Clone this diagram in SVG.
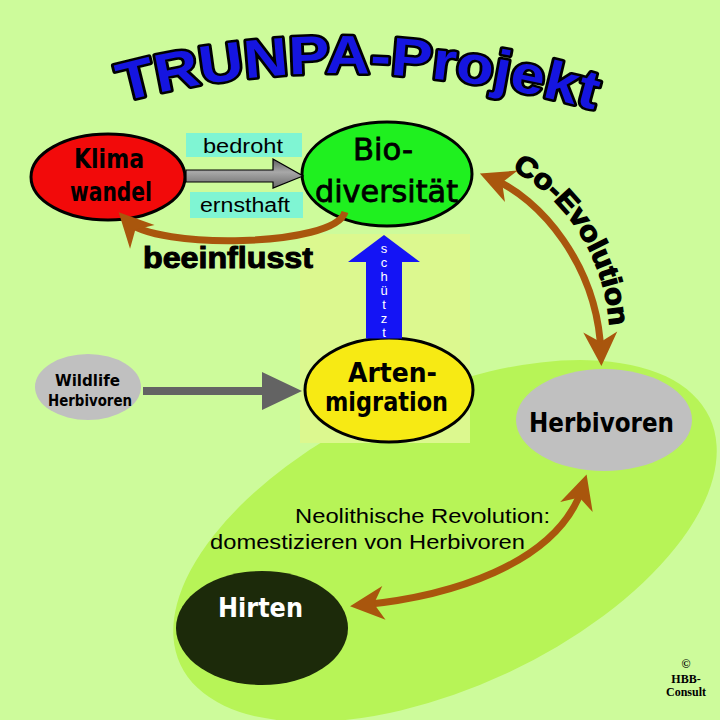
<svg xmlns="http://www.w3.org/2000/svg" width="720" height="720" viewBox="0 0 720 720">
<style>
.comic{font-family:"Comic Sans MS","DejaVu Sans",sans-serif;font-weight:bold;text-anchor:middle}
.reg{font-weight:normal;stroke:#000;stroke-width:0.8}
.arial{font-family:"Liberation Sans",Arial,sans-serif}
.node{stroke:#000;stroke-width:3}
.brown{fill:none;stroke:#a9560d;stroke-width:7;marker-start:url(#bh);marker-end:url(#bh)}
.lbl{fill:#7ff5d3}
</style>
<defs>
<marker id="bh" viewBox="-36 -19 38 38" refX="-12" refY="0" markerWidth="38" markerHeight="38" markerUnits="userSpaceOnUse" orient="auto-start-reverse">
<path d="M0,0 L-34,-17 L-24,0 L-34,17 Z" fill="#a9560d"/>
</marker>
<linearGradient id="gg" x1="0" y1="0" x2="0" y2="1">
<stop offset="0" stop-color="#5e5e5e"/>
<stop offset="0.45" stop-color="#a8a8a8"/>
<stop offset="1" stop-color="#6a6a6a"/>
</linearGradient>
<path id="titlePath" d="M 122,102 Q 350,40 602,112"/>
<path id="coevoPath" d="M 512,170 C 560,195 605,250 610,330"/>
</defs>

<rect x="0" y="0" width="720" height="720" fill="#cdfb9b"/>
<ellipse cx="445" cy="541" rx="292" ry="146" transform="rotate(-25 445 541)" fill="#b7f457"/>
<rect x="300" y="234" width="170" height="209" fill="#dcf88f"/>

<text class="arial" font-size="54" font-weight="bold" fill="#1515e0" stroke="#000" stroke-width="5" stroke-linejoin="round" paint-order="stroke"><textPath href="#titlePath" textLength="478" lengthAdjust="spacingAndGlyphs">TRUNPA-Projekt</textPath></text>

<g id="klima">
<ellipse class="node" cx="108" cy="177" rx="77" ry="43" fill="#f20a0a"/>
<text class="comic" x="109" y="168" font-size="26" textLength="70" lengthAdjust="spacingAndGlyphs">Klima</text>
<text class="comic" x="111" y="201" font-size="26" textLength="82" lengthAdjust="spacingAndGlyphs">wandel</text>
</g>
<g id="bio">
<ellipse class="node" cx="387" cy="174" rx="85" ry="52" fill="#1ff01f"/>
<text class="comic reg" x="383" y="160" font-size="30" textLength="60" lengthAdjust="spacingAndGlyphs">Bio-</text>
<text class="comic reg" x="386.5" y="202" font-size="30" textLength="143" lengthAdjust="spacingAndGlyphs">diversität</text>
</g>
<g id="arten">
<ellipse class="node" cx="389" cy="390" rx="84" ry="52" fill="#f7ea14"/>
<text class="comic" x="392.5" y="382" font-size="27" textLength="89" lengthAdjust="spacingAndGlyphs">Arten-</text>
<text class="comic" x="386.5" y="411" font-size="27" textLength="123" lengthAdjust="spacingAndGlyphs">migration</text>
</g>
<g id="herbivoren">
<ellipse cx="604" cy="420" rx="88" ry="51" fill="#c0c0c0"/>
<text class="comic" x="601.5" y="432" font-size="26" textLength="145" lengthAdjust="spacingAndGlyphs">Herbivoren</text>
</g>
<g id="wildlife">
<ellipse cx="88" cy="387" rx="53" ry="33" fill="#c0c0c0"/>
<text class="comic" x="87.5" y="386" font-size="15" textLength="65" lengthAdjust="spacingAndGlyphs">Wildlife</text>
<text class="comic" x="90" y="406" font-size="15" textLength="84" lengthAdjust="spacingAndGlyphs">Herbivoren</text>
</g>
<g id="hirten">
<ellipse cx="262" cy="628" rx="86" ry="57" fill="#1c2a0a"/>
<text class="comic" x="260.5" y="617" font-size="26" fill="#fff" textLength="85" lengthAdjust="spacingAndGlyphs">Hirten</text>
</g>

<g id="connectors">
<rect class="lbl" x="186" y="133" width="116" height="24"/>
<rect class="lbl" x="190" y="192" width="113" height="26"/>
<path d="M186,170 H273 V159 L303,176 L273,188 V182 H186 Z" fill="url(#gg)" stroke="#000" stroke-width="1.2"/>
<text class="arial" x="243" y="153" font-size="20" text-anchor="middle" textLength="80" lengthAdjust="spacingAndGlyphs">bedroht</text>
<text class="arial" x="245" y="212" font-size="20" text-anchor="middle" textLength="90" lengthAdjust="spacingAndGlyphs">ernsthaft</text>

<path class="brown" d="M345,212 C335,247 155,250 127,221" style="marker-start:none"/>
<text class="arial" x="143" y="268" font-size="29" font-weight="bold" stroke="#000" stroke-width="1" textLength="170" lengthAdjust="spacingAndGlyphs">beeinflusst</text>

<path class="brown" d="M491,178 C540,198 598,265 601,354"/>
<text class="arial" font-size="28" font-weight="bold" stroke="#000" stroke-width="1.4"><textPath href="#coevoPath" textLength="192" lengthAdjust="spacingAndGlyphs">Co-Evolution</textPath></text>

<path d="M366,338.5 V262 H348 L384,235 L420,262 H402 V338.5 Z" fill="#1414f5"/>
<text class="arial" font-size="13" fill="#fff" text-anchor="middle"><tspan x="384" y="253">s</tspan><tspan x="384" y="267">c</tspan><tspan x="384" y="281">h</tspan><tspan x="384" y="295">ü</tspan><tspan x="384" y="309">t</tspan><tspan x="384" y="323">z</tspan><tspan x="384" y="337">t</tspan></text>

<path d="M143,387 H262 V372 L302,391 L262,410 V395 H143 Z" fill="#636363"/>

<path class="brown" d="M362,605 C445,597 558,566 583,486"/>
<text class="arial" x="295" y="523" font-size="21" textLength="255" lengthAdjust="spacingAndGlyphs">Neolithische Revolution:</text>
<text class="arial" x="210" y="549" font-size="21" textLength="315" lengthAdjust="spacingAndGlyphs">domestizieren von Herbivoren</text>
</g>

<text font-family="'Liberation Serif','Times New Roman',serif" font-size="12" font-weight="bold" text-anchor="middle"><tspan x="686" y="668">©</tspan><tspan x="686" y="683">HBB-</tspan><tspan x="686" y="696">Consult</tspan></text>
</svg>
